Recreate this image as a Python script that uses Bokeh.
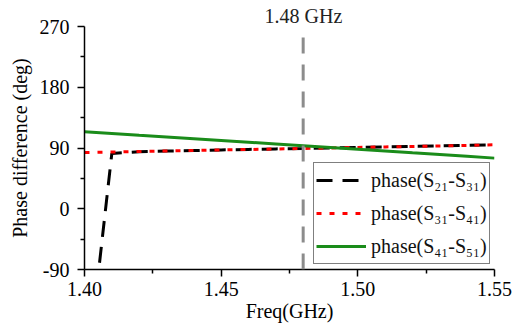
from bokeh.plotting import figure
from bokeh.models import (Legend, LegendItem, Span, FixedTicker, NumeralTickFormatter, Range1d)
from bokeh.embed import file_html
from bokeh.resources import INLINE

# ---- data ----
freq = [1.40, 1.41, 1.42, 1.43, 1.44, 1.45, 1.46, 1.47, 1.48, 1.49, 1.50, 1.51, 1.52, 1.53, 1.54, 1.55]
phase_41_51 = [114.0, 111.5, 108.8, 106.3, 103.7, 101.1, 98.5, 95.9, 93.3, 90.7, 88.1, 85.5, 82.8, 80.2, 77.6, 75.0]
phase_31_41 = [83.3, 84.0, 84.8, 85.5, 86.3, 87.1, 87.8, 88.6, 89.3, 90.1, 90.8, 91.6, 92.3, 93.1, 93.9, 94.7]

freq_b = [1.4055, 1.4100, 1.42, 1.43, 1.44, 1.45, 1.46, 1.47, 1.48, 1.49, 1.50, 1.51, 1.52, 1.53, 1.54, 1.55]
phase_21_31 = [-80.0, 82.0, 84.5, 85.4, 86.3, 87.1, 87.9, 88.7, 89.4, 90.2, 90.9, 91.7, 92.4, 93.2, 94.0, 94.8]

marker_freq = 1.48
marker_label = "1.48 GHz"
x_ticks = [1.40, 1.45, 1.50, 1.55]
y_ticks = [-90, 0, 90, 180, 270]

FONT = "Liberation Serif"

p = figure(output_backend="svg", toolbar_location=None,
           width=512, height=326,
           min_border_left=84, min_border_right=18, min_border_top=26, min_border_bottom=57,
           x_range=Range1d(1.40, 1.55), y_range=Range1d(-90, 270))
p.outline_line_color = None
p.xgrid.visible = False
p.ygrid.visible = False
p.background_fill_color = "white"

# marker label shown as the (offset) title above the frame
p.title.text = marker_label
p.title.text_font = FONT
p.title.text_font_size = "20px"
p.title.text_font_style = "normal"
p.title.text_color = "#222222"
p.title.align = "left"
p.title.offset = 180
p.title.standoff = 0

for ax in (p.xaxis[0], p.yaxis[0]):
    ax.axis_line_width = 1.5
    ax.axis_line_color = "black"
    ax.major_tick_line_color = "black"
    ax.minor_tick_line_color = "black"
    ax.major_tick_line_width = 1.5
    ax.minor_tick_line_width = 1.5
    ax.major_tick_in = 0
    ax.major_tick_out = 7
    ax.minor_tick_in = 0
    ax.minor_tick_out = 4
    ax.major_label_text_font = FONT
    ax.major_label_text_font_size = "20px"
    ax.major_label_text_color = "black"
    ax.axis_label_text_font = FONT
    ax.axis_label_text_font_size = "20px"
    ax.axis_label_text_font_style = "normal"
    ax.axis_label_text_color = "black"

p.xaxis.ticker = FixedTicker(ticks=x_ticks, minor_ticks=[1.425, 1.475, 1.525])
p.yaxis.ticker = FixedTicker(ticks=y_ticks, minor_ticks=[-45, 45, 135, 225])
p.xaxis.formatter = NumeralTickFormatter(format="0.00")
p.yaxis.formatter = NumeralTickFormatter(format="0")
p.xaxis.axis_label = "Freq(GHz)"
p.yaxis.axis_label = "Phase difference (deg)"
p.xaxis.major_label_standoff = 5
p.xaxis.axis_label_standoff = 1
p.yaxis.major_label_standoff = 8
p.yaxis.axis_label_standoff = 6

vline = Span(location=marker_freq, dimension="height", line_color="#8c8c8c",
             line_width=3, line_dash="16 11", line_dash_offset=16)
p.add_layout(vline)

r_black = p.line(freq_b, phase_21_31, line_color="black", line_width=3, line_dash="16 10")
r_red = p.line(freq, phase_31_41, line_color="red", line_width=3, line_dash="5 8")
r_green = p.line(freq, phase_41_51, line_color="#1a8c1a", line_width=3)

legend = Legend(items=[
    LegendItem(label="phase(S\u2082\u2081-S\u2083\u2081)", renderers=[r_black]),
    LegendItem(label="phase(S\u2083\u2081-S\u2084\u2081)", renderers=[r_red]),
    LegendItem(label="phase(S\u2084\u2081-S\u2085\u2081)", renderers=[r_green]),
], location=(229, 5))
legend.margin = 0
legend.padding = 2
legend.spacing = 3
legend.glyph_width = 50
legend.glyph_height = 30
legend.label_height = 30
legend.label_standoff = 5
legend.label_text_font = FONT
legend.label_text_font_size = "20px"
legend.label_text_color = "#111111"
legend.border_line_color = "black"
legend.border_line_width = 1.5
legend.background_fill_alpha = 1
p.add_layout(legend, "center")

open("out.html", "w").write(file_html(p, INLINE))
